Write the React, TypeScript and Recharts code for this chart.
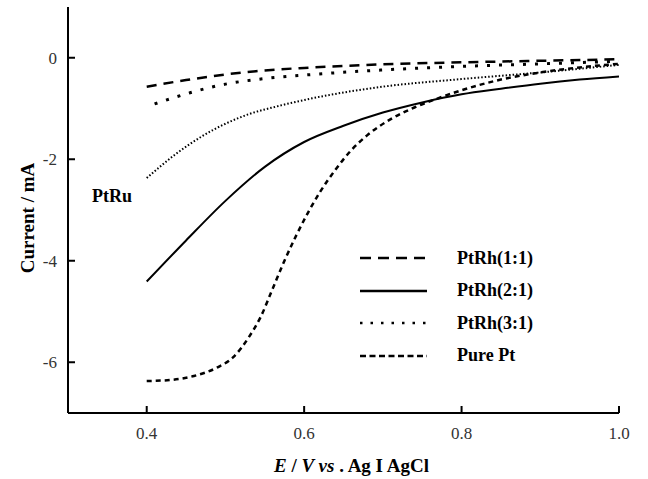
import { LineChart, Line, XAxis, YAxis, Legend, Label, ReferenceDot } from 'recharts'

const FONT = '"Liberation Serif", "Times New Roman", serif'

// PtRh(1:1)
const rh11E = [0.4, 0.45, 0.5, 0.55, 0.6, 0.7, 0.8, 0.9, 1.0]
const rh11I = [-0.57, -0.44, -0.33, -0.25, -0.2, -0.13, -0.09, -0.06, -0.03]

// PtRh(2:1)
const rh21E = [0.4, 0.45, 0.5, 0.55, 0.6, 0.65, 0.7, 0.75, 0.8, 0.85, 0.9, 0.95, 1.0]
const rh21I = [-4.41, -3.6, -2.82, -2.15, -1.66, -1.34, -1.08, -0.88, -0.72, -0.61, -0.51, -0.43, -0.37]

// PtRh(3:1)
const rh31E = [0.41, 0.455, 0.5, 0.55, 0.61, 0.7, 0.8, 0.9, 1.0]
const rh31I = [-0.91, -0.69, -0.52, -0.41, -0.33, -0.24, -0.17, -0.12, -0.07]

// Pure Pt
const ptE = [0.4, 0.43, 0.46, 0.49, 0.51, 0.53, 0.545, 0.56, 0.575, 0.59, 0.605, 0.62, 0.64, 0.66, 0.68, 0.71, 0.74, 0.77, 0.8, 0.85, 0.9, 0.95, 1.0]
const ptI = [-6.37, -6.35, -6.27, -6.1, -5.9, -5.5, -5.1, -4.55, -4.0, -3.5, -3.05, -2.65, -2.2, -1.82, -1.53, -1.21, -0.98, -0.8, -0.64, -0.43, -0.29, -0.19, -0.12]

// PtRu
const ruE = [0.4, 0.435, 0.47, 0.5, 0.53, 0.565, 0.61, 0.7, 0.8, 0.9, 1.0]
const ruI = [-2.37, -1.92, -1.55, -1.3, -1.11, -0.96, -0.8, -0.57, -0.42, -0.29, -0.14]

const xTicks = [0.4, 0.6, 0.8, 1.0]
const xMinorTicks = [0.5, 0.7, 0.9]
const yTicks = [-6, -4, -2, 0]
const yMinorTicks = [-5, -3, -1]

const zip = (es: number[], is: number[]) => es.map((E, i) => ({ E, I: is[i] }))

const series = [
  { name: 'PtRh(1:1)', data: zip(rh11E, rh11I), dash: '10 7', width: 2.5, legendDash: '11 7' },
  { name: 'PtRh(2:1)', data: zip(rh21E, rh21I), dash: undefined, width: 2, legendDash: undefined },
  { name: 'PtRh(3:1)', data: zip(rh31E, rh31I), dash: '3 9', width: 3, legendDash: '2.5 8' },
  { name: 'Pure Pt', data: zip(ptE, ptI), dash: '5 4', width: 2.5, legendDash: '6 3.5' },
]

const renderLegend = (props: any) => {
  const items = (props.payload || []).filter((p: any) => series.some(s => s.name === p.value))
  return (
    <div>
      {items.map((p: any) => {
        const s = series.find(x => x.name === p.value)!
        return (
          <div key={p.value} style={{ display: 'flex', alignItems: 'center', height: 32.5 }}>
            <svg width={97} height={10}>
              <line x1={0} y1={5} x2={67} y2={5} stroke="#000" strokeWidth={2.5} strokeDasharray={s.legendDash} />
            </svg>
            <span style={{ fontFamily: FONT, fontWeight: 'bold', fontSize: 18, color: '#000' }}>{p.value}</span>
          </div>
        )
      })}
    </div>
  )
}

const XTitle = (props: any) => {
  const vb = props.viewBox
  const cx = vb.x + vb.width / 2 + 8
  return (
    <text x={cx} y={vb.y + 59} textAnchor="middle" fontFamily={FONT} fontSize={19} fontWeight="bold" fill="#000">
      <tspan fontStyle="italic">E</tspan>
      <tspan> / </tspan>
      <tspan fontStyle="italic">V vs</tspan>
      <tspan> . Ag I AgCl</tspan>
    </text>
  )
}

const YTitle = (props: any) => {
  const vb = props.viewBox
  const cx = 27
  const cy = vb.y + vb.height / 2 + 8
  return (
    <text x={cx} y={cy} transform={`rotate(-90, ${cx}, ${cy})`} textAnchor="middle" dominantBaseline="central"
      fontFamily={FONT} fontSize={19} fontWeight="bold" fill="#000">
      Current / mA
    </text>
  )
}

const axisLine = { stroke: '#000', strokeWidth: 2 }
const tickStyle = { fill: '#333', fontSize: 17, fontFamily: FONT }

export default function App() {
  return (
    <div style={{ position: 'absolute', left: 0, top: 0, background: '#fff' }}>
      <LineChart width={648} height={479} margin={{ top: 7, right: 29, left: 0, bottom: 0 }}>
        <XAxis
          dataKey="E" type="number" domain={[0.3, 1.0]} ticks={xTicks} interval={0}
          tickFormatter={(v: number) => v.toFixed(1)} height={66}
          tickSize={-7} tickMargin={21} axisLine={axisLine} tickLine={axisLine} tick={tickStyle}
          allowDataOverflow
        >
          <Label content={XTitle} />
        </XAxis>
        <XAxis xAxisId="minor" type="number" domain={[0.3, 1.0]} ticks={xMinorTicks} interval={0}
          mirror height={0} tick={false} axisLine={false} tickSize={4} tickLine={axisLine} />
        <XAxis xAxisId="top" orientation="top" type="number" domain={[0.3, 1.0]} ticks={[]}
          mirror height={0} tick={false} tickLine={false} axisLine={axisLine} />
        <YAxis
          type="number" domain={[-7, 1]} ticks={yTicks} interval={0} width={68}
          tickSize={-7} tickMargin={18} axisLine={axisLine} tickLine={axisLine} tick={tickStyle}
          allowDataOverflow
        >
          <Label content={YTitle} />
        </YAxis>
        <YAxis yAxisId="minor" type="number" domain={[-7, 1]} ticks={yMinorTicks} interval={0}
          mirror width={0} tick={false} axisLine={false} tickSize={4} tickLine={axisLine} />
        <YAxis yAxisId="right" orientation="right" type="number" domain={[-7, 1]} ticks={[]}
          mirror width={0} tick={false} tickLine={false} axisLine={axisLine} />
        {series.map(s => (
          <Line
            key={s.name}
            data={s.data}
            dataKey="I"
            name={s.name}
            type="monotone"
            stroke="#000"
            strokeWidth={s.width}
            strokeDasharray={s.dash}
            dot={false}
            activeDot={false}
            isAnimationActive={false}
          />
        ))}
        <Line
          data={zip(ruE, ruI)}
          dataKey="I"
          name="PtRu"
          type="monotone"
          stroke="#000"
          strokeWidth={2}
          strokeDasharray="1.5 2"
          dot={false}
          activeDot={false}
          legendType="none"
          isAnimationActive={false}
        />
        <ReferenceDot x={0.356} y={-2.71} r={0} fill="none" stroke="none">
          <Label value="PtRu" position="center" fontFamily={FONT} fontSize={18} fontWeight="bold" fill="#000" />
        </ReferenceDot>
        <Legend
          layout="vertical" align="center" verticalAlign="middle"
          wrapperStyle={{ left: 360, top: 242, width: 200 }}
          content={renderLegend}
        />
      </LineChart>
    </div>
  )
}
